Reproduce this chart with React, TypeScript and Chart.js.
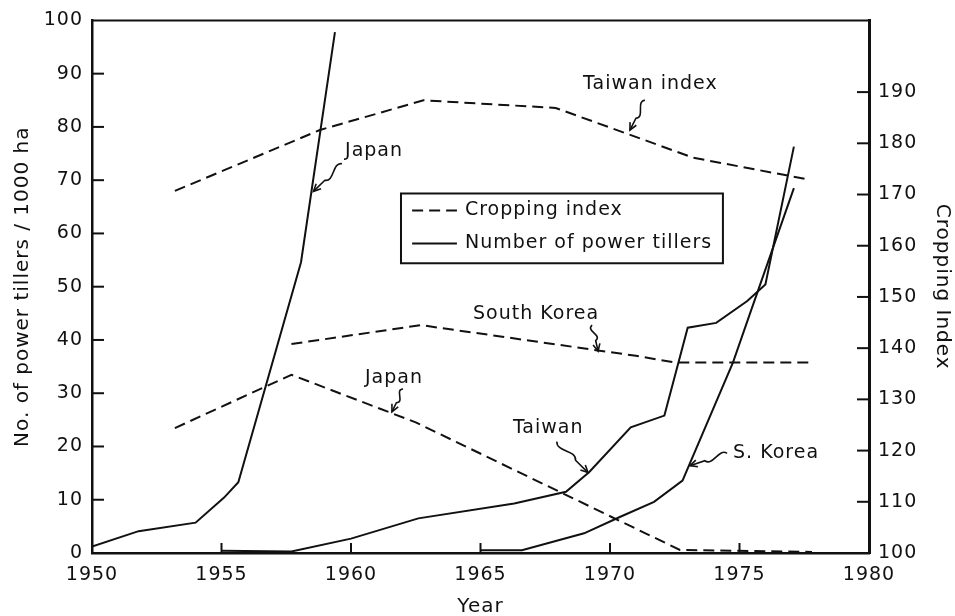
import React, { useEffect, useRef } from 'react';
import { Chart, registerables } from 'chart.js';

Chart.register(...registerables);

// ---- Number of power tillers (per 1000 ha, left axis) ----
const japanTillerYears = [1950, 1951.8, 1954.0, 1955.1, 1955.65, 1958.07, 1959.38];
const japanTillerValues = [1.2, 4.1, 5.7, 10.4, 13.3, 54.6, 97.8];

const taiwanTillerYears = [1955.0, 1957.7, 1960.0, 1962.6, 1966.3, 1968.3, 1969.2, 1970.8, 1972.1, 1973.0, 1974.1, 1975.3, 1976.0, 1977.1];
const taiwanTillerValues = [0.4, 0.3, 2.7, 6.5, 9.3, 11.5, 15.2, 23.6, 25.8, 42.3, 43.2, 47.3, 50.4, 76.3];

const koreaTillerYears = [1965.0, 1966.6, 1969.0, 1970.4, 1971.7, 1972.8, 1974.75, 1975.35, 1977.1];
const koreaTillerValues = [0.5, 0.5, 3.7, 6.8, 9.6, 13.6, 35.8, 44.2, 68.5];

// ---- Cropping index (right axis) ----
const taiwanIndexYears = [1953.2, 1958.8, 1962.8, 1967.9, 1970.7, 1973.2, 1977.7];
const taiwanIndexValues = [170.7, 182.6, 188.4, 186.9, 181.8, 177.2, 172.9];

const koreaIndexYears = [1957.7, 1962.7, 1971.0, 1972.5, 1977.7];
const koreaIndexValues = [140.8, 144.5, 138.5, 137.2, 137.2];

const japanIndexYears = [1953.2, 1957.7, 1962.5, 1972.7, 1977.8];
const japanIndexValues = [124.4, 134.8, 125.5, 100.6, 100.2];

// ---- Axes ----
const xTicks = [1950, 1955, 1960, 1965, 1970, 1975, 1980];
const leftTicks = [0, 10, 20, 30, 40, 50, 60, 70, 80, 90, 100];
const rightTicks = [100, 110, 120, 130, 140, 150, 160, 170, 180, 190];

// ---- Legend entries ----
const legendLabels = ['Cropping index', 'Number of power tillers'];
const legendDashed = [true, false];

// ---- Annotations: text, text anchor (year, left value), squiggle start, arrow tip ----
const annoTexts = ['Japan', 'Taiwan index', 'South Korea', 'Japan', 'Taiwan', 'S. Korea'];
const annoTextPos = [[1959.77, 75.5], [1968.96, 88.0], [1964.71, 44.9], [1960.54, 32.9], [1966.25, 23.4], [1974.75, 18.7]];
const annoStart = [[1959.65, 73.1], [1971.35, 85.0], [1969.31, 42.8], [1962.01, 30.8], [1967.95, 20.9], [1974.52, 18.7]];
const annoTip = [[1958.55, 67.9], [1970.77, 79.4], [1969.54, 37.9], [1961.58, 26.5], [1969.15, 15.1], [1973.09, 16.4]];

const FAMILY = '"DejaVu Sans", "Liberation Sans", sans-serif';
const INK = '#111';

function pts(xs: number[], ys: number[]) {
  return xs.map((x, i) => ({ x, y: ys[i] }));
}

function squiggle(ctx: CanvasRenderingContext2D, sx: number, sy: number, tx: number, ty: number) {
  const dx = tx - sx, dy = ty - sy;
  const len = Math.hypot(dx, dy) || 1;
  const ux = dx / len, uy = dy / len;
  const px = -uy, py = ux;
  const A = Math.min(8, len * 0.3);
  const mx = sx + dx * 0.6, my = sy + dy * 0.6;
  ctx.beginPath();
  ctx.moveTo(sx, sy);
  ctx.bezierCurveTo(
    sx + dx * 0.15 + px * A, sy + dy * 0.15 + py * A,
    sx + dx * 0.45 - px * A, sy + dy * 0.45 - py * A,
    mx, my
  );
  ctx.lineTo(tx, ty);
  ctx.stroke();
  const ang = Math.atan2(ty - my, tx - mx);
  const ah = 8;
  ctx.beginPath();
  ctx.moveTo(tx - ah * Math.cos(ang - 0.45), ty - ah * Math.sin(ang - 0.45));
  ctx.lineTo(tx, ty);
  ctx.lineTo(tx - ah * Math.cos(ang + 0.45), ty - ah * Math.sin(ang + 0.45));
  ctx.stroke();
}

const decorPlugin = {
  id: 'decor',
  beforeDraw(chart: any) {
    chart.ctx.letterSpacing = '1px';
  },
  afterDraw(chart: any) {
    const { ctx, chartArea } = chart;
    const { left, right, top, bottom } = chartArea;
    const x = chart.scales.x, y = chart.scales.y, y2 = chart.scales.y2;
    ctx.save();
    ctx.strokeStyle = INK;
    ctx.fillStyle = INK;
    ctx.lineCap = 'butt';
    // top frame line
    ctx.lineWidth = 2;
    ctx.beginPath();
    ctx.moveTo(left, top);
    ctx.lineTo(right, top);
    ctx.stroke();
    // inward ticks
    ctx.lineWidth = 2;
    leftTicks.forEach((v) => {
      if (v <= 0 || v >= 100) return;
      const py = y.getPixelForValue(v);
      ctx.beginPath(); ctx.moveTo(left, py); ctx.lineTo(left + 12, py); ctx.stroke();
    });
    rightTicks.forEach((v) => {
      if (v <= 100) return;
      const py = y2.getPixelForValue(v);
      ctx.beginPath(); ctx.moveTo(right - 12, py); ctx.lineTo(right, py); ctx.stroke();
    });
    xTicks.forEach((v) => {
      if (v <= 1950 || v >= 1980) return;
      const px = x.getPixelForValue(v);
      ctx.beginPath(); ctx.moveTo(px, bottom); ctx.lineTo(px, bottom - 10); ctx.stroke();
    });

    // legend box
    const bx0 = x.getPixelForValue(1961.93), bx1 = x.getPixelForValue(1974.36);
    const by0 = y.getPixelForValue(67.5), by1 = y.getPixelForValue(54.4);
    ctx.lineWidth = 2;
    ctx.strokeRect(bx0, by0, bx1 - bx0, by1 - by0);
    const rowsY = [y.getPixelForValue(64.3), y.getPixelForValue(58.1)];
    const sx0 = x.getPixelForValue(1962.36), sx1 = x.getPixelForValue(1964.09);
    const tx = x.getPixelForValue(1964.4);
    ctx.font = `19px ${FAMILY}`;
    ctx.textBaseline = 'middle';
    ctx.textAlign = 'left';
    legendLabels.forEach((lab, i) => {
      ctx.lineWidth = 2;
      ctx.setLineDash(legendDashed[i] ? [11, 6] : []);
      ctx.beginPath(); ctx.moveTo(sx0, rowsY[i]); ctx.lineTo(sx1, rowsY[i]); ctx.stroke();
      ctx.setLineDash([]);
      ctx.fillText(lab, tx, rowsY[i]);
    });

    // annotations
    annoTexts.forEach((t, i) => {
      const ax = x.getPixelForValue(annoTextPos[i][0]);
      const ay = y.getPixelForValue(annoTextPos[i][1]);
      ctx.fillText(t, ax, ay);
      ctx.lineWidth = 1.6;
      squiggle(
        ctx,
        x.getPixelForValue(annoStart[i][0]), y.getPixelForValue(annoStart[i][1]),
        x.getPixelForValue(annoTip[i][0]), y.getPixelForValue(annoTip[i][1])
      );
    });
    ctx.restore();
  },
};

export default function App() {
  const ref = useRef<HTMLCanvasElement>(null);

  useEffect(() => {
    const canvas = ref.current;
    if (!canvas) return;
    const solid = { borderColor: INK, borderWidth: 2, pointRadius: 0, fill: false, tension: 0, yAxisID: 'y' };
    const dashed = { borderColor: INK, borderWidth: 2, pointRadius: 0, fill: false, tension: 0, borderDash: [11, 6], yAxisID: 'y2' };
    const tickFont = { family: FAMILY, size: 19 };
    const titleFont = { family: FAMILY, size: 20 };

    const chart = new Chart(canvas, {
      type: 'line',
      data: {
        datasets: [
          { ...solid, label: 'Japan tillers', data: pts(japanTillerYears, japanTillerValues) },
          { ...solid, label: 'Taiwan tillers', data: pts(taiwanTillerYears, taiwanTillerValues) },
          { ...solid, label: 'S. Korea tillers', data: pts(koreaTillerYears, koreaTillerValues) },
          { ...dashed, label: 'Taiwan index', data: pts(taiwanIndexYears, taiwanIndexValues) },
          { ...dashed, label: 'South Korea index', data: pts(koreaIndexYears, koreaIndexValues) },
          { ...dashed, label: 'Japan index', data: pts(japanIndexYears, japanIndexValues) },
        ] as any,
      },
      options: {
        responsive: false,
        animation: false,
        layout: { padding: { top: 18, left: 0, right: 0, bottom: 0 } },
        plugins: { legend: { display: false }, tooltip: { enabled: false } },
        scales: {
          x: {
            type: 'linear',
            min: 1950,
            max: 1980,
            afterBuildTicks: (s: any) => { s.ticks = xTicks.map((v) => ({ value: v })); },
            ticks: { callback: (v: any) => String(v), font: tickFont, color: INK, padding: 11, maxRotation: 0, autoSkip: false },
            grid: { display: false, drawTicks: false },
            border: { display: true, color: INK, width: 2.5 },
            title: { display: true, text: 'Year', font: titleFont, color: INK, padding: { top: 0, bottom: -3 } },
            afterFit: (s: any) => { s.height = 63; },
          },
          y: {
            type: 'linear',
            position: 'left',
            min: 0,
            max: 100,
            afterBuildTicks: (s: any) => { s.ticks = leftTicks.map((v) => ({ value: v })); },
            ticks: { callback: (v: any) => String(v), font: tickFont, color: INK, padding: 9 },
            grid: { display: false, drawTicks: false },
            border: { display: true, color: INK, width: 2.5 },
            title: { display: true, text: 'No. of power tillers / 1000 ha', font: titleFont, color: INK, padding: { top: 11, bottom: 0 } },
            afterFit: (s: any) => { s.width = 92; },
          },
          y2: {
            type: 'linear',
            position: 'right',
            min: 100,
            max: 204,
            afterBuildTicks: (s: any) => { s.ticks = rightTicks.map((v) => ({ value: v })); },
            ticks: { callback: (v: any) => String(v), font: tickFont, color: INK, padding: 9 },
            grid: { display: false, drawTicks: false },
            border: { display: true, color: INK, width: 3 },
            title: { display: true, text: 'Cropping Index', font: titleFont, color: INK, padding: { top: 1, bottom: 0 } },
            afterFit: (s: any) => { s.width = 86; },
          },
        },
      } as any,
      plugins: [decorPlugin],
    });
    return () => chart.destroy();
  }, []);

  return (
    <div style={{ position: 'absolute', left: 0, top: 0, width: 955, height: 616, background: '#fff' }}>
      <canvas ref={ref} width={955} height={616} style={{ display: 'block' }} />
    </div>
  );
}
